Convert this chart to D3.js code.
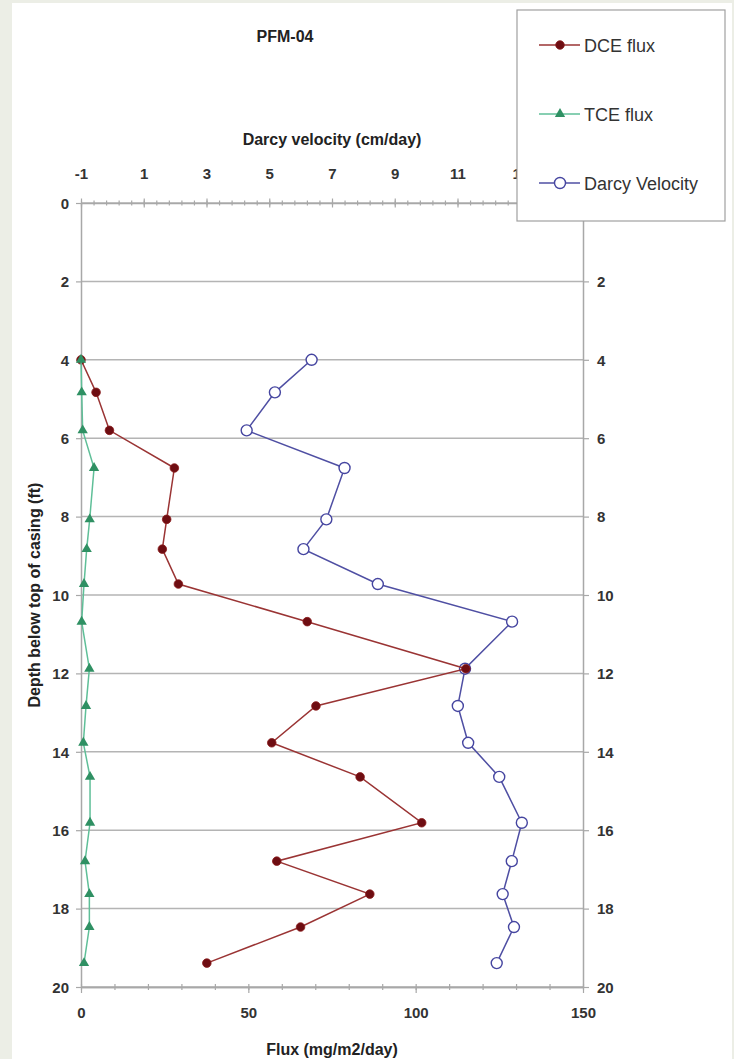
<!DOCTYPE html>
<html>
<head>
<meta charset="utf-8">
<script src="https://cdn.jsdelivr.net/npm/d3@7"></script>
<style>
  html, body { margin: 0; padding: 0; background: #eceee6; }
  svg { display: block; }
  text { font-family: "Liberation Sans", Arial, sans-serif; }
</style>
</head>
<body>
<svg id="chart" width="734" height="1059"></svg>
<script>
// Profile PFM-04: depth of each measurement interval (ft below top of casing)
const depths = [4.0, 4.83, 5.8, 6.76, 8.07, 8.83, 9.72, 10.68, 11.88, 12.83, 13.77, 14.64, 15.81, 16.79, 17.63, 18.47, 19.39];
// Contaminant mass flux (mg/m2/day)
const dceFlux = [0, 4.5, 8.5, 27.9, 25.6, 24.3, 29.1, 67.6, 115.0, 70.2, 57.0, 83.4, 101.8, 58.5, 86.3, 65.6, 37.6];
const tceFlux = [0, 0.2, 0.5, 3.9, 2.6, 1.7, 0.9, 0.2, 2.5, 1.5, 0.7, 2.7, 2.7, 1.2, 2.5, 2.5, 0.9];
// Darcy velocity (cm/day)
const darcyVelocity = [6.35, 5.18, 4.28, 7.40, 6.82, 6.09, 8.46, 12.74, 11.24, 11.01, 11.34, 12.33, 13.05, 12.73, 12.44, 12.80, 12.25];

// Axis ticks
const fluxTicks = [0, 50, 100, 150];
const fluxMinorTicks = d3.range(0, 151, 10);
const velocityTicks = [-1, 1, 3, 5, 7, 9, 11, 13, 15];
const velocityMinorTicks = d3.range(-1, 15.01, 0.4);
const depthTicks = [0, 2, 4, 6, 8, 10, 12, 14, 16, 18, 20];

// Legend labels
const seriesNames = ["DCE flux", "TCE flux", "Darcy Velocity"];

const svg = d3.select("#chart");

// White chart area over the light page border
svg.append("rect").attr("x", 12).attr("y", 3).attr("width", 720).attr("height", 1056).attr("fill", "#ffffff");

const plot = { left: 81, right: 583, top: 203, bottom: 987 };

const xFlux = d3.scaleLinear().domain([0, 150]).range([plot.left, plot.right]);
const xVel = d3.scaleLinear().domain([-1, 15]).range([plot.left, plot.right]);
const yDepth = d3.scaleLinear().domain([0, 20]).range([plot.top, plot.bottom]);

const axisColor = "#a8a8a8";
const labelColor = "#333333";
const plainNumber = d => String(d);

// Horizontal gridlines
svg.append("g")
  .selectAll("line")
  .data(depthTicks)
  .join("line")
  .attr("x1", plot.left)
  .attr("x2", plot.right)
  .attr("y1", d => yDepth(d))
  .attr("y2", d => yDepth(d))
  .attr("stroke", "#b4b4b4")
  .attr("stroke-width", 1.5);

function styleAxis(g) {
  g.select(".domain").attr("stroke", axisColor).attr("stroke-width", 1.5);
  g.selectAll(".tick line").attr("stroke", axisColor).attr("stroke-width", 1.2);
  g.selectAll(".tick text")
    .attr("fill", labelColor)
    .style("font-size", "15px")
    .style("font-weight", "bold")
    .style("font-family", "'Liberation Sans', Arial, sans-serif");
}

// Left depth axis
svg.append("g")
  .attr("transform", `translate(${plot.left},0)`)
  .call(d3.axisLeft(yDepth).tickValues(depthTicks).tickSizeInner(5).tickSizeOuter(0).tickPadding(7).tickFormat(plainNumber))
  .call(styleAxis)
  .call(g => g.selectAll(".tick text").attr("dy", "0.35em"));

// Right depth axis (its top label sits beneath the legend box)
svg.append("g")
  .attr("transform", `translate(${plot.right},0)`)
  .call(d3.axisRight(yDepth).tickValues(depthTicks.slice(1)).tickSizeInner(6).tickSizeOuter(0).tickPadding(8).tickFormat(plainNumber))
  .call(styleAxis)
  .call(g => g.selectAll(".tick text").attr("dy", "0.35em"));

// Bottom flux axis: minor ticks then labelled major ticks
svg.append("g")
  .attr("transform", `translate(0,${plot.bottom})`)
  .call(d3.axisBottom(xFlux).tickValues(fluxMinorTicks).tickSizeInner(3).tickSizeOuter(0).tickFormat(""))
  .call(styleAxis)
  .call(g => g.selectAll(".tick line").attr("y1", -3).attr("y2", 3));

svg.append("g")
  .attr("transform", `translate(0,${plot.bottom})`)
  .call(d3.axisBottom(xFlux).tickValues(fluxTicks).tickSizeInner(6).tickSizeOuter(0).tickPadding(14).tickFormat(plainNumber))
  .call(styleAxis);

// Top Darcy velocity axis lying on the zero-depth line
svg.append("g")
  .attr("transform", `translate(0,${plot.top})`)
  .call(d3.axisTop(xVel).tickValues(velocityMinorTicks).tickSizeOuter(0).tickFormat(""))
  .call(styleAxis)
  .call(g => g.selectAll(".tick line").attr("y1", -2.5).attr("y2", 2.5));

// The last label (15) falls under the legend box and is left blank
svg.append("g")
  .attr("transform", `translate(0,${plot.top})`)
  .call(d3.axisTop(xVel).tickValues(velocityTicks).tickSizeOuter(0).tickPadding(18)
    .tickFormat(d => d === 15 ? "" : plainNumber(d)))
  .call(styleAxis)
  .call(g => g.selectAll(".tick line").attr("y1", -4.5).attr("y2", 4.5))
  .call(g => g.select(".domain").remove());

// Axis titles and chart title
const titleStyle = s => s.attr("fill", "#222").style("font-size", "16px").style("font-weight", "bold").attr("text-anchor", "middle");

svg.append("text").attr("x", 285).attr("y", 42).text("PFM-04").call(titleStyle);
svg.append("text").attr("x", (plot.left + plot.right) / 2).attr("y", 145).text("Darcy velocity (cm/day)").call(titleStyle);
svg.append("text").attr("x", (plot.left + plot.right) / 2).attr("y", 1055).text("Flux (mg/m2/day)").call(titleStyle);
svg.append("text")
  .attr("transform", `translate(40,${(plot.top + plot.bottom) / 2}) rotate(-90)`)
  .text("Depth below top of casing (ft)")
  .call(titleStyle);

// Series
const series = [
  { name: seriesNames[0], values: dceFlux, x: xFlux, line: "#9a3434", marker: "dot" },
  { name: seriesNames[1], values: tceFlux, x: xFlux, line: "#5fbf98", marker: "triangle" },
  { name: seriesNames[2], values: darcyVelocity, x: xVel, line: "#4f4fa3", marker: "ring" }
];

function drawMarker(sel, type) {
  if (type === "dot") {
    sel.append("circle").attr("r", 4.3).attr("fill", "#6e0d12").attr("stroke", "#8a1a1a").attr("stroke-width", 0.8);
  } else if (type === "triangle") {
    sel.append("path").attr("d", d3.symbol(d3.symbolTriangle, 46)()).attr("fill", "#2f9063");
  } else {
    sel.append("circle").attr("r", 5.5).attr("fill", "#ffffff").attr("stroke", "#4545a0").attr("stroke-width", 1.4);
  }
}

const plotLayer = svg.append("g");
for (const s of [series[2], series[0], series[1]]) {
  const pts = depths.map((d, i) => [s.x(s.values[i]), yDepth(d)]);
  plotLayer.append("path")
    .attr("d", d3.line()(pts))
    .attr("fill", "none")
    .attr("stroke", s.line)
    .attr("stroke-width", 1.5);
  plotLayer.append("g")
    .selectAll("g")
    .data(pts)
    .join("g")
    .attr("transform", p => `translate(${p[0]},${p[1]})`)
    .each(function () { drawMarker(d3.select(this), s.marker); });
}

// Legend
const legend = svg.append("g");
legend.append("rect")
  .attr("x", 517).attr("y", 10).attr("width", 208).attr("height", 211)
  .attr("fill", "#ffffff").attr("stroke", "#a0a0a0").attr("stroke-width", 1.2);

const legendY = d3.scalePoint().domain(seriesNames).range([45, 183]);
series.forEach(s => {
  const g = legend.append("g").attr("transform", `translate(0,${legendY(s.name)})`);
  g.append("line").attr("x1", 539).attr("x2", 580).attr("y1", 0).attr("y2", 0)
    .attr("stroke", s.line).attr("stroke-width", 1.5);
  drawMarker(g.append("g").attr("transform", "translate(560,0)"), s.marker);
  g.append("text").attr("x", 584).attr("y", 6.5).text(s.name)
    .attr("fill", "#333").style("font-size", "18px");
});
</script>
</body>
</html>
